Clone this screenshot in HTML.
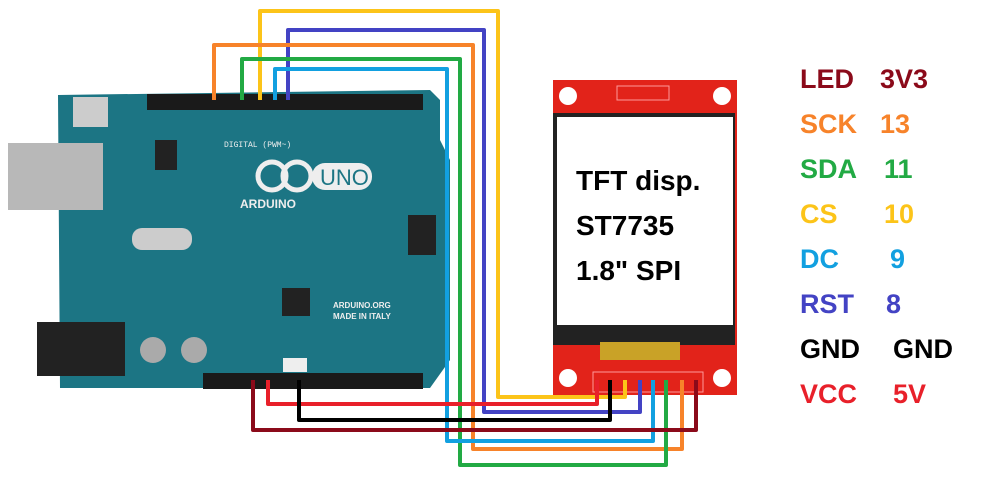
<!DOCTYPE html>
<html><head><style>
body{margin:0;width:997px;height:485px;background:#fff;overflow:hidden;position:relative;font-family:"Liberation Sans",sans-serif}
.a{position:absolute}
.lbl{position:absolute;font-weight:bold;font-size:27px;line-height:1}
</style></head><body>
<svg class="a" style="left:0;top:0" width="997" height="485">
<!-- arduino board -->
<path d="M58 95 L430 90 L440 100 L440 140 L450 160 L450 360 L430 388 L60 388 Z" fill="#1c7584"/>
<rect x="147" y="94" width="276" height="16" fill="#1a1a1a"/>
<rect x="203" y="373" width="220" height="16" fill="#1a1a1a"/>
<rect x="8" y="143" width="95" height="67" fill="#b8b8b8"/>
<rect x="37" y="322" width="88" height="54" fill="#222"/>
<rect x="73" y="97" width="35" height="30" fill="#ccc"/>
<rect x="132" y="228" width="60" height="22" rx="10" fill="#ccc"/>
<circle cx="153" cy="350" r="13" fill="#aaa"/><circle cx="194" cy="350" r="13" fill="#aaa"/>
<rect x="282" y="288" width="28" height="28" fill="#222"/>
<rect x="408" y="215" width="28" height="40" fill="#222"/>
<rect x="155" y="140" width="22" height="30" fill="#222"/>
<circle cx="272" cy="176" r="14" fill="none" stroke="#eee" stroke-width="5"/>
<circle cx="297" cy="176" r="14" fill="none" stroke="#eee" stroke-width="5"/>
<rect x="312" y="163" width="60" height="27" rx="13" fill="#eee"/>
<text x="320" y="185" font-size="22" fill="#1c7584" font-family="Liberation Sans">UNO</text>
<text x="240" y="208" font-size="12" font-weight="bold" fill="#eee" font-family="Liberation Sans">ARDUINO</text>
<text x="333" y="308" font-size="8" font-weight="bold" fill="#eee" font-family="Liberation Sans">ARDUINO.ORG</text>
<text x="333" y="319" font-size="8" font-weight="bold" fill="#eee" font-family="Liberation Sans">MADE IN ITALY</text>
<text x="224" y="147" font-size="8" fill="#eee" font-family="Liberation Mono">DIGITAL (PWM~)</text>
<rect x="283" y="358" width="24" height="14" fill="#eee"/>
<!-- TFT -->
<rect x="553" y="80" width="184" height="315" fill="#e2231a"/>
<rect x="553" y="113" width="182" height="232" fill="#222"/>
<rect x="557" y="117" width="176" height="208" fill="#fff"/>
<rect x="600" y="342" width="80" height="18" fill="#c9a227"/>
<circle cx="568" cy="96" r="9" fill="#fff"/><circle cx="722" cy="96" r="9" fill="#fff"/>
<circle cx="568" cy="378" r="9" fill="#fff"/><circle cx="722" cy="378" r="9" fill="#fff"/>
<rect x="617" y="86" width="52" height="14" fill="none" stroke="#f99"/>
<rect x="593" y="372" width="110" height="20" fill="none" stroke="#f99"/>
<g fill="none" stroke-width="4" stroke-linejoin="round">
<path d="M260 100 V11 H498 V397 H625 V380" stroke="#fcc419"/>
<path d="M288 100 V30 H484 V412 H640 V380" stroke="#4343c4"/>
<path d="M214 100 V45 H473 V449 H682 V380" stroke="#f7832a"/>
<path d="M242 100 V59 H460 V465 H666 V380" stroke="#22aa44"/>
<path d="M275 100 V69 H447 V441 H653 V380" stroke="#12a0e0"/>
<path d="M268 380 V404 H597 V380" stroke="#e8202a"/>
<path d="M299 380 V420 H610 V380" stroke="#000"/>
<path d="M253 380 V430 H696 V380" stroke="#8b0a1a"/>
</g>
</svg>
<div class="lbl" style="left:576px;top:158px;font-size:28px;line-height:45px;color:#000">TFT disp.<br>ST7735<br>1.8" SPI</div>
<div class="lbl" style="left:800px;top:66px;color:#8b0a1a">LED</div><div class="lbl" style="left:880px;top:66px;color:#8b0a1a">3V3</div>
<div class="lbl" style="left:800px;top:111px;color:#f7832a">SCK</div><div class="lbl" style="left:880px;top:111px;color:#f7832a">13</div>
<div class="lbl" style="left:800px;top:156px;color:#22aa44">SDA</div><div class="lbl" style="left:884px;top:156px;color:#22aa44">11</div>
<div class="lbl" style="left:800px;top:201px;color:#fcc419">CS</div><div class="lbl" style="left:884px;top:201px;color:#fcc419">10</div>
<div class="lbl" style="left:800px;top:246px;color:#12a0e0">DC</div><div class="lbl" style="left:890px;top:246px;color:#12a0e0">9</div>
<div class="lbl" style="left:800px;top:291px;color:#4343c4">RST</div><div class="lbl" style="left:886px;top:291px;color:#4343c4">8</div>
<div class="lbl" style="left:800px;top:336px;color:#000">GND</div><div class="lbl" style="left:893px;top:336px;color:#000">GND</div>
<div class="lbl" style="left:800px;top:381px;color:#e8202a">VCC</div><div class="lbl" style="left:893px;top:381px;color:#e8202a">5V</div>
</body></html>
